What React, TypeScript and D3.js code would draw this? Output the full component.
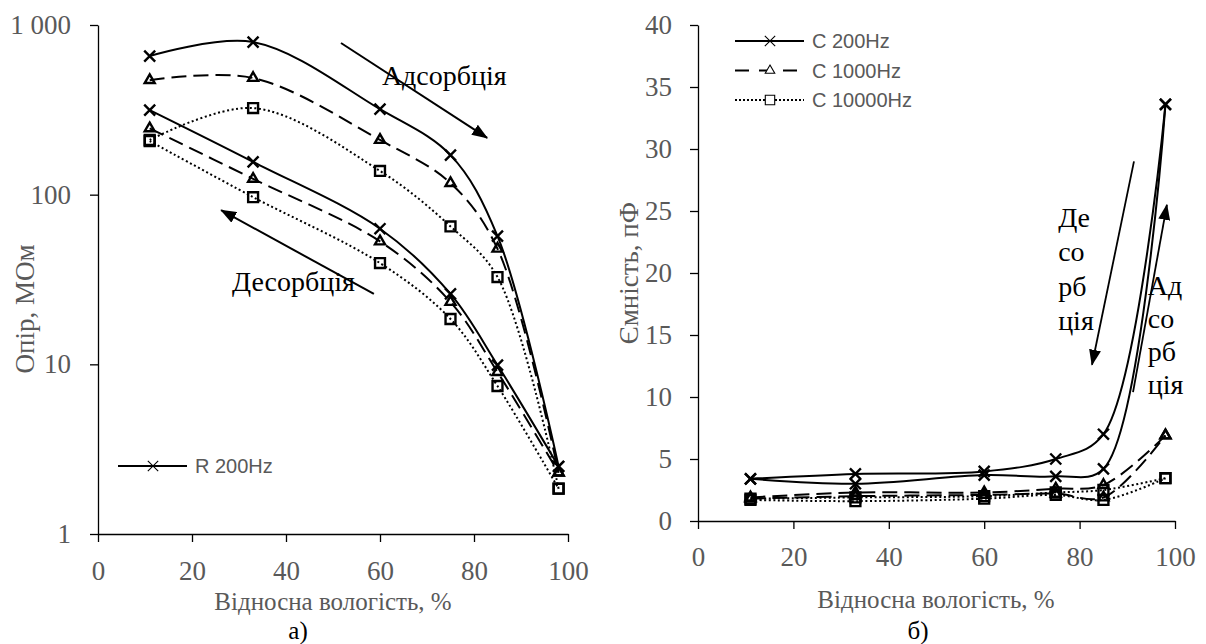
import React, { useEffect, useRef } from 'react'
import * as d3 from 'd3'

// relative humidity, %
const humidity = [11, 33, 60, 75, 85, 98]

// resistance, MOhm (left chart, log axis)
const r200Ads = [656, 793, 319, 171, 57, 2.5]
const r200Des = [315, 156, 63, 26, 9.9, 2.5]
const r1000Ads = [473, 487, 210, 117, 48, 2.3]
const r1000Des = [246, 124, 53, 23.3, 9.0, 2.3]
const r10000Ads = [210, 324, 138, 65, 32.7, 1.85]
const r10000Des = [207, 96.7, 39.5, 18.5, 7.45, 1.85]

// capacitance, pF (right chart)
const c200Ads = [3.4, 3.8, 4.0, 5.0, 7.0, 33.6]
const c200Des = [3.4, 3.0, 3.7, 3.6, 4.2, 33.6]
const c1000Ads = [1.9, 2.3, 2.3, 2.6, 2.9, 6.9]
const c1000Des = [1.8, 2.0, 2.1, 2.2, 1.9, 6.9]
const c10000Ads = [1.8, 1.9, 2.0, 2.3, 2.5, 3.45]
const c10000Des = [1.7, 1.6, 1.8, 2.1, 1.7, 3.45]

const xTicks = [0, 20, 40, 60, 80, 100]
const rTicks = [1, 10, 100, 1000]
const cTicks = [0, 5, 10, 15, 20, 25, 30, 35, 40]

const rLegend = ['R 200Hz']
const cLegend = ['C 200Hz', 'C 1000Hz', 'C 10000Hz']

const SERIF = "'Liberation Serif', 'Times New Roman', serif"
const SANS = "'Liberation Sans', Arial, sans-serif"
const GRAY = '#595959'

type Kind = 'x' | 'tri' | 'sq'

const kinds: Record<Kind, { dash: string | null, symbol: d3.SymbolType, size: number }> = {
    x: { dash: null, symbol: d3.symbolTimes, size: 80 },
    tri: { dash: '15 7', symbol: d3.symbolTriangle2, size: 72 },
    sq: { dash: '2 2.6', symbol: d3.symbolSquare2, size: 125 }
}

// scales
const xL = d3.scaleLinear().domain([0, 100]).range([98, 568])
const yL = d3.scaleLog().domain([1, 1000]).range([534, 25])
const xR = d3.scaleLinear().domain([0, 100]).range([698, 1175])
const yR = d3.scaleLinear().domain([0, 40]).range([521, 25])

const styleAxis = (g: any) => {
    g.attr('font-family', SERIF).attr('font-size', 27)
    g.select('.domain').attr('stroke', '#000').attr('stroke-width', 1.3)
    g.selectAll('.tick line').attr('stroke', '#000').attr('stroke-width', 1.3)
    g.selectAll('.tick text').attr('fill', GRAY)
}

const drawLines = (g: any, xs: any, ys: any, series: Array<[number[], Kind]>) => {
    const line = d3.line<number>()
        .x((_, i) => xs(humidity[i]))
        .y((d) => ys(d))
        .curve(d3.curveCatmullRom.alpha(0.5))

    series.forEach(([values, kind]) => {
        g.append('path')
            .datum(values)
            .attr('d', line)
            .attr('fill', 'none')
            .attr('stroke', '#000')
            .attr('stroke-width', 2)
            .attr('stroke-dasharray', kinds[kind].dash)
    })
    series.forEach(([values, kind]) => {
        g.selectAll(null)
            .data(values)
            .join('path')
            .attr('transform', (d: number, i: number) => `translate(${xs(humidity[i])},${ys(d)})`)
            .attr('d', d3.symbol(kinds[kind].symbol, kinds[kind].size))
            .attr('fill', 'none')
            .attr('stroke', '#000')
            .attr('stroke-width', 2.4)
    })
}

const drawLegend = (g: any, labels: string[], kindList: Kind[], x0: number, y0: number, step: number) => {
    labels.forEach((label, i) => {
        const y = y0 + i * step
        const k = kinds[kindList[i]]
        g.append('line')
            .attr('x1', x0).attr('x2', x0 + 69)
            .attr('y1', y).attr('y2', y)
            .attr('stroke', '#000')
            .attr('stroke-width', 2.2)
            .attr('stroke-dasharray', k.dash === null ? null : (kindList[i] === 'tri' ? '14 10' : '2 2'))
        g.append('path')
            .attr('transform', `translate(${x0 + 35},${y})`)
            .attr('d', d3.symbol(k.symbol, k.size * 0.9))
            .attr('fill', '#fff')
            .attr('stroke', '#000')
            .attr('stroke-width', 1.1)
        g.append('text')
            .attr('x', x0 + 77)
            .attr('y', y)
            .attr('dominant-baseline', 'central')
            .attr('font-family', SANS)
            .attr('font-size', 20)
            .attr('fill', GRAY)
            .text(label)
    })
}

const arrow = (g: any, xs: any, ys: any, from: [number, number], to: [number, number], w: number) => {
    g.append('line')
        .attr('x1', xs(from[0])).attr('y1', ys(from[1]))
        .attr('x2', xs(to[0])).attr('y2', ys(to[1]))
        .attr('stroke', '#000')
        .attr('stroke-width', w)
        .attr('marker-end', 'url(#ah)')
}

const label = (g: any, x: number, y: number, text: string, opts: any = {}) => {
    g.append('text')
        .attr('x', x)
        .attr('y', y)
        .attr('text-anchor', opts.anchor || 'middle')
        .attr('dominant-baseline', 'central')
        .attr('font-family', SERIF)
        .attr('font-size', opts.size || 27)
        .attr('fill', opts.fill || GRAY)
        .attr('transform', opts.rotate ? `rotate(-90,${x},${y})` : null)
        .text(text)
}

export default function App() {
    const svgRef = useRef<SVGSVGElement>(null)

    useEffect(() => {
        const svg = d3.select(svgRef.current)
        svg.selectAll('*').remove()

        svg.append('defs')
            .append('marker')
            .attr('id', 'ah')
            .attr('viewBox', '0 0 16 12')
            .attr('refX', 15)
            .attr('refY', 6)
            .attr('markerWidth', 16)
            .attr('markerHeight', 12)
            .attr('markerUnits', 'userSpaceOnUse')
            .attr('orient', 'auto')
            .append('path')
            .attr('d', 'M0,0L16,6L0,12Z')
            .attr('fill', '#000')

        // ---- а) resistance
        const left = svg.append('g')
        left.append('g')
            .attr('transform', `translate(0,${yL(1)})`)
            .call(d3.axisBottom(xL).tickValues(xTicks).tickSize(8).tickPadding(19).tickSizeOuter(0))
            .call(styleAxis)
        left.append('g')
            .attr('transform', `translate(${xL(0)},0)`)
            .call(d3.axisLeft(yL).tickValues(rTicks).tickSize(8).tickPadding(19).tickSizeOuter(0)
                .tickFormat((d: any) => (d === 1000 ? '1 000' : String(d))))
            .call(styleAxis)

        drawLines(left, xL, yL, [
            [r200Ads, 'x'], [r200Des, 'x'],
            [r1000Ads, 'tri'], [r1000Des, 'tri'],
            [r10000Ads, 'sq'], [r10000Des, 'sq']
        ])
        drawLegend(left, rLegend, ['x'], 118, 466, 30)

        arrow(left, xL, yL, [51.7, 783], [82.8, 216], 2)
        arrow(left, xL, yL, [58.7, 26], [26.2, 81], 2)
        label(left, xL(60.4), yL(507), 'Адсорбція', { anchor: 'start', size: 28, fill: '#000' })
        label(left, xL(28.5), yL(30.6), 'Десорбція', { anchor: 'start', size: 28, fill: '#000' })

        label(left, 333, 601, 'Відносна вологість, %', { size: 25 })
        label(left, 25, 309, 'Опір, МОм', { rotate: true })
        label(left, 298, 630, 'а)', { size: 25, fill: '#000' })

        // ---- б) capacitance
        const right = svg.append('g')
        right.append('g')
            .attr('transform', `translate(0,${yR(0)})`)
            .call(d3.axisBottom(xR).tickValues(xTicks).tickSize(8).tickPadding(18).tickSizeOuter(0))
            .call(styleAxis)
        right.append('g')
            .attr('transform', `translate(${xR(0)},0)`)
            .call(d3.axisLeft(yR).tickValues(cTicks).tickSize(8).tickPadding(18).tickSizeOuter(0))
            .call(styleAxis)

        drawLines(right, xR, yR, [
            [c200Ads, 'x'], [c200Des, 'x'],
            [c1000Ads, 'tri'], [c1000Des, 'tri'],
            [c10000Ads, 'sq'], [c10000Des, 'sq']
        ])
        drawLegend(right, cLegend, ['x', 'tri', 'sq'], 735, 41, 29.5)

        arrow(right, xR, yR, [91.4, 29.0], [82.6, 12.6], 1.8)
        arrow(right, xR, yR, [91.2, 10.4], [98.3, 25.5], 1.8)
        const des = ['Де', 'со', 'рб', 'ція']
        des.forEach((t, i) => label(right, xR(75.5), yR(24.5) + i * 34.5, t, { anchor: 'start', size: 28, fill: '#000' }))
        const ads = ['Ад', 'со', 'рб', 'ція']
        ads.forEach((t, i) => label(right, xR(94.3), yR(19.0) + i * 33, t, { anchor: 'start', size: 28, fill: '#000' }))

        label(right, 936, 599, 'Відносна вологість, %', { size: 25 })
        label(right, 629, 273, 'Ємність, пФ', { rotate: true })
        label(right, 918, 630, 'б)', { size: 25, fill: '#000' })
    }, [])

    return (
        <svg
            ref={svgRef}
            width={1206}
            height={644}
            style={{ position: 'absolute', left: 0, top: 0, background: '#fff' }}
        />
    )
}
